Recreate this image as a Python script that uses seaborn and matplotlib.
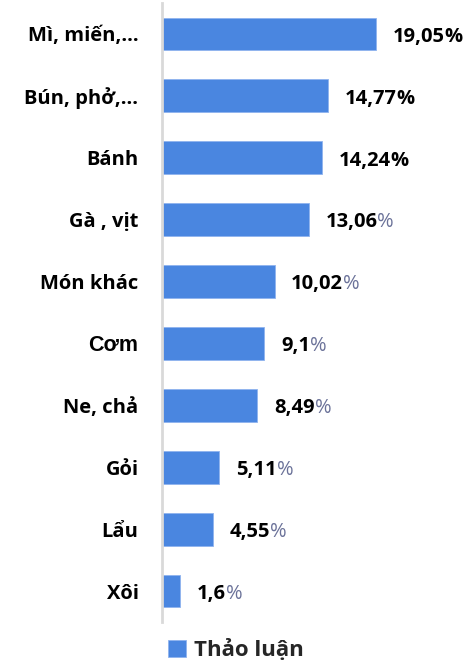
import matplotlib
matplotlib.use("Agg")
import matplotlib.pyplot as plt
import seaborn as sns
import pandas as pd

categories = ["Mì, miến,...", "Bún, phở,...", "Bánh", "Gà , vịt", "Món khác",
              "Cơm", "Ne, chả", "Gỏi", "Lẩu", "Xôi"]
values = [19.05, 14.77, 14.24, 13.06, 10.02, 9.1, 8.49, 5.11, 4.55, 1.6]
value_labels = ["19,05", "14,77", "14,24", "13,06", "10,02", "9,1", "8,49", "5,11", "4,55", "1,6"]
pct_colored = [False, False, False, True, True, True, True, True, True, True]
series_name = "Thảo luận"

BAR = "#4A86E0"
PCT = "#6B7299"
FS = 14.5

sns.set_theme(style="white")
plt.rcParams["font.family"] = ["Open Sans", "DejaVu Sans"]

df = pd.DataFrame({"cat": categories, "val": values, "series": series_name})

fig = plt.figure(figsize=(4.76, 6.63), dpi=100)
ax = fig.add_axes([162/476, 1-622/663, 278/476, 619/663])

sns.barplot(data=df, y="cat", x="val", hue="series", palette=[BAR],
            saturation=1, orient="h", width=0.53, ax=ax, legend=True,
            edgecolor="#8fb3ee", linewidth=0.6)

ax.set_xlim(0, 24.75)
ax.set_ylim(9.5, -0.5)
ax.set_xlabel("")
ax.set_ylabel("")
ax.set_xticks([])
for s in ["top", "right", "bottom"]:
    ax.spines[s].set_visible(False)
ax.spines["left"].set_color("#d9d9d9")
ax.spines["left"].set_linewidth(2)
ax.tick_params(axis="y", length=0, pad=17)
for lbl in ax.get_yticklabels():
    lbl.set_fontsize(FS)
    lbl.set_fontweight("bold")
    lbl.set_color("black")
    if lbl.get_text() == "Cơm":
        lbl.set_family("Liberation Sans")
        lbl.set_fontsize(FS + 1)

for i, (v, s, c) in enumerate(zip(values, value_labels, pct_colored)):
    t = ax.annotate(s, (v, i), xytext=(12, -2), textcoords="offset points",
                    ha="left", va="center", fontsize=FS, fontweight="bold",
                    color="black")
    ax.annotate("%", xy=(1, 0.5), xycoords=t, ha="left", va="center",
                fontsize=FS, fontweight="bold" if not c else "normal",
                color=PCT if c else "black")

leg = ax.legend(loc="center", bbox_to_anchor=(236/476, 1-650/663),
                bbox_transform=fig.transFigure, frameon=False,
                fontsize=FS + 1.5, handlelength=0.8, handleheight=0.8,
                handletextpad=0.4)
for txt in leg.get_texts():
    txt.set_fontweight("bold")

fig.savefig("out.png", dpi=100)
